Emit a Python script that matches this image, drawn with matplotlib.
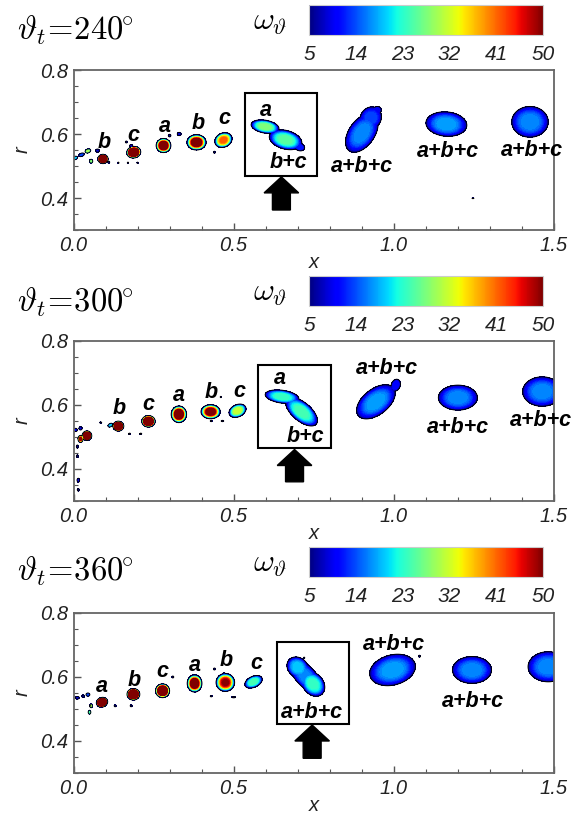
import numpy as np
import matplotlib
matplotlib.use("Agg")
import matplotlib.pyplot as plt
from matplotlib.patches import Rectangle, FancyArrow
from matplotlib.cm import ScalarMappable
from matplotlib.colors import Normalize

plt.rcParams['mathtext.fontset'] = 'cm'
plt.rcParams['font.family'] = ['Liberation Sans', 'DejaVu Sans']

# ---------------- data ----------------
TITLES = [r'$\vartheta_t\!=\!240^{\!\!\circ}$', r'$\vartheta_t\!=\!300^{\!\!\circ}$',
          r'$\vartheta_t\!=\!360^{\!\!\circ}$']
CBAR_TICKS = [5, 14, 23, 32, 41, 50]
X_TICKS = [0.0, 0.5, 1.0, 1.5]
Y_TICKS = [0.4, 0.6, 0.8]

# vortex blobs: (x, r, half-length, half-width, angle deg, peak omega)
BLOBS_240 = [
    (0.092, 0.522, 0.016, 0.0145, 0, 150),
    (0.188, 0.543, 0.022, 0.018, 10, 110),
    (0.281, 0.564, 0.023, 0.022, 0, 65),
    (0.384, 0.574, 0.030, 0.024, 0, 58),
    (0.468, 0.581, 0.028, 0.022, 25, 42),
    (0.598, 0.623, 0.044, 0.020, -10, 28),
    (0.662, 0.582, 0.052, 0.029, -15, 26),
    (0.705, 0.560, 0.017, 0.012, -20, 12),
    (0.900, 0.603, 0.068, 0.040, 55, 17),
    (0.928, 0.650, 0.036, 0.032, 55, 14),
    (0.948, 0.675, 0.013, 0.011, 0, 10),
    (1.164, 0.631, 0.064, 0.038, -5, 18),
    (1.425, 0.638, 0.057, 0.048, 0, 17),
    (0.005, 0.525, 0.008, 0.005, 20, 20),
    (0.025, 0.535, 0.009, 0.005, 20, 14),
    (0.045, 0.547, 0.009, 0.006, 20, 30),
    (0.055, 0.515, 0.005, 0.006, 0, 28),
    (0.075, 0.548, 0.006, 0.005, 0, 9),
    (0.300, 0.595, 0.004, 0.004, 0, 8),
    (0.330, 0.600, 0.006, 0.005, 0, 9),
    (0.440, 0.543, 0.003, 0.003, 0, 8),
    (0.180, 0.563, 0.005, 0.004, 0, 9),
    (0.165, 0.575, 0.003, 0.003, 0, 8),
    (1.247, 0.399, 0.003, 0.0012, 0, 6),
    (0.110, 0.512, 0.003, 0.003, 0, 12),
    (0.140, 0.510, 0.002, 0.002, 0, 8),
    (0.170, 0.510, 0.002, 0.002, 0, 8),
    (0.200, 0.510, 0.002, 0.002, 0, 8),
]
BLOBS_300 = [
    (0.042, 0.504, 0.015, 0.015, 0, 130),
    (0.022, 0.494, 0.008, 0.011, 0, 50),
    (0.006, 0.522, 0.006, 0.005, 0, 10),
    (0.022, 0.527, 0.005, 0.005, 0, 10),
    (0.012, 0.470, 0.003, 0.005, 0, 8),
    (0.012, 0.440, 0.003, 0.004, 0, 8),
    (0.015, 0.365, 0.004, 0.006, 0, 10),
    (0.015, 0.335, 0.003, 0.004, 0, 8),
    (0.115, 0.537, 0.008, 0.005, 30, 20),
    (0.085, 0.545, 0.003, 0.002, 0, 8),
    (0.140, 0.534, 0.017, 0.0155, 0, 150),
    (0.234, 0.549, 0.021, 0.018, 0, 110),
    (0.329, 0.571, 0.024, 0.026, 0, 62),
    (0.428, 0.579, 0.030, 0.022, 0, 55),
    (0.512, 0.582, 0.028, 0.019, 25, 32),
    (0.651, 0.626, 0.053, 0.020, -8, 24),
    (0.712, 0.579, 0.060, 0.029, -40, 25),
    (0.944, 0.610, 0.070, 0.040, 38, 18),
    (1.006, 0.662, 0.019, 0.014, 70, 11),
    (1.200, 0.623, 0.061, 0.039, 0, 17),
    (1.463, 0.642, 0.061, 0.046, 0, 17),
    (0.175, 0.510, 0.003, 0.002, 0, 8),
    (0.210, 0.510, 0.003, 0.002, 0, 8),
    (0.430, 0.550, 0.003, 0.002, 0, 8),
    (0.465, 0.550, 0.004, 0.002, 0, 8),
    (0.460, 0.625, 0.002, 0.002, 0, 8),
]
BLOBS_360 = [
    (0.089, 0.521, 0.018, 0.015, 20, 150),
    (0.187, 0.546, 0.020, 0.018, 0, 150),
    (0.278, 0.557, 0.022, 0.0215, 0, 90),
    (0.378, 0.580, 0.023, 0.027, 0, 60),
    (0.474, 0.583, 0.029, 0.028, 0, 50),
    (0.562, 0.585, 0.029, 0.017, 25, 25),
    (0.700, 0.630, 0.036, 0.030, -40, 20),
    (0.748, 0.578, 0.042, 0.032, -50, 24),
    (0.725, 0.602, 0.072, 0.031, -47, 17),
    (0.996, 0.622, 0.073, 0.047, 15, 18),
    (1.244, 0.622, 0.061, 0.042, 0, 17),
    (1.482, 0.632, 0.063, 0.047, 0, 17),
    (0.012, 0.535, 0.006, 0.004, 0, 10),
    (0.030, 0.540, 0.004, 0.004, 0, 8),
    (0.045, 0.545, 0.006, 0.005, 0, 14),
    (0.055, 0.510, 0.004, 0.006, 0, 30),
    (0.050, 0.490, 0.004, 0.006, 0, 25),
    (0.130, 0.510, 0.003, 0.003, 0, 12),
    (0.180, 0.510, 0.003, 0.003, 0, 8),
    (0.310, 0.600, 0.003, 0.003, 0, 8),
    (0.440, 0.625, 0.003, 0.003, 0, 8),
    (0.470, 0.610, 0.003, 0.004, 0, 10),
    (0.430, 0.540, 0.003, 0.002, 0, 8),
    (0.500, 0.537, 0.006, 0.002, 0, 8),
    (0.720, 0.660, 0.002, 0.002, 0, 8),
    (1.080, 0.665, 0.003, 0.003, 0, 8),
]

LABELS_240 = [("b", 0.095, 0.573), ("c", 0.188, 0.594), ("a", 0.286, 0.623),
              ("b", 0.390, 0.633), ("c", 0.470, 0.649), ("a", 0.600, 0.672),
              ("b+c", 0.672, 0.510), ("a+b+c", 0.902, 0.500),
              ("a+b+c", 1.170, 0.545), ("a+b+c", 1.430, 0.548)]
LABELS_300 = [("b", 0.142, 0.590), ("c", 0.234, 0.600), ("a", 0.328, 0.631),
              ("b", 0.430, 0.640), ("c", 0.517, 0.642), ("a", 0.643, 0.683),
              ("b+c", 0.724, 0.501), ("a+b+c", 0.977, 0.715),
              ("a+b+c", 1.200, 0.529), ("a+b+c", 1.460, 0.550)]
LABELS_360 = [("a", 0.088, 0.570), ("b", 0.189, 0.590), ("c", 0.276, 0.617),
              ("a", 0.378, 0.637), ("b", 0.477, 0.651), ("c", 0.571, 0.642),
              ("a+b+c", 0.745, 0.490), ("a+b+c", 1.000, 0.700),
              ("a+b+c", 1.246, 0.523)]

# box (x0, r0, width, height) and arrow (x, r_base, r_tip)
BOXES = [(0.535, 0.469, 0.226, 0.258), (0.576, 0.465, 0.229, 0.260), (0.635, 0.453, 0.225, 0.257)]
ARROWS = [(0.649, 0.3625, 0.466), (0.690, 0.360, 0.461), (0.745, 0.346, 0.450)]

PANELS = [BLOBS_240, BLOBS_300, BLOBS_360]
LABELS = [LABELS_240, LABELS_300, LABELS_360]

# ---------------- layout ----------------
W, H = 586, 814
fig = plt.figure(figsize=(W / 100, H / 100), dpi=100)

ax_tops = [70, 341, 613]
ax_h = 160
ax_left, ax_right = 73.5, 554
cb_tops = [5, 276, 547]
cb_h = 30
cb_left, cb_right = 309, 543
title_y = [30, 302, 571]

XL = (0.0, 1.5)
YL = (0.3, 0.8)
K = (ax_h / (YL[1] - YL[0])) / ((ax_right - ax_left) / (XL[1] - XL[0]))

xg = np.linspace(XL[0], XL[1], 1501)
yg = np.linspace(YL[0], YL[1], 601)
XX, YY = np.meshgrid(xg, yg)

cmap = plt.get_cmap('jet')
levels = np.linspace(5, 50, 46)
norm = Normalize(5, 50)

label_font = dict(fontsize=15.5, fontweight='bold', style='italic', ha='center', va='center')

for i in range(3):
    ax = fig.add_axes([ax_left / W, 1 - (ax_tops[i] + ax_h) / H,
                       (ax_right - ax_left) / W, ax_h / H])
    field = np.zeros_like(XX)
    for (x0, y0, a, b, ang, pk) in PANELS[i]:
        th = np.deg2rad(ang)
        dx = XX - x0
        dy = (YY - y0) * K
        u = dx * np.cos(th) + dy * np.sin(th)
        v = -dx * np.sin(th) + dy * np.cos(th)
        r2 = (u / a) ** 2 + (v / b) ** 2
        f = pk * (5.0 / pk) ** (r2 ** 2)
        field = np.maximum(field, f)
    ax.contourf(XX, YY, field, levels=levels, cmap=cmap, extend='max')
    ax.contour(XX, YY, field, levels=[5.0], colors='k', linewidths=0.7)

    for (t, lx, ly) in LABELS[i]:
        ax.text(lx, ly, t, **label_font)

    bx, by, bw, bh = BOXES[i]
    ax.add_patch(Rectangle((bx, by), bw, bh, fill=False, ec='k', lw=1.5, zorder=5))
    axx, ab, at = ARROWS[i]
    ax.add_patch(FancyArrow(axx, ab, 0, at - ab, width=0.056, head_width=0.108,
                            head_length=0.05, length_includes_head=True,
                            fc='k', ec='k', zorder=5))

    ax.set_xlim(*XL)
    ax.set_ylim(*YL)
    ax.set_xticks(X_TICKS)
    ax.set_xticks(np.arange(0.1, 1.5, 0.1), minor=True)
    ax.set_yticks(Y_TICKS)
    ax.set_yticks(np.arange(0.3, 0.8, 0.05), minor=True)
    ax.set_xticklabels([f"{v:.1f}" for v in X_TICKS])
    ax.set_yticklabels([f"{v:.1f}" for v in Y_TICKS])
    ax.tick_params(which='both', direction='in', colors='#555555', labelcolor='#222222',
                   labelsize=14.5, pad=4)
    ax.tick_params(which='major', length=5, width=1)
    ax.tick_params(which='minor', length=3, width=0.8)
    for lab in ax.get_xticklabels() + ax.get_yticklabels():
        lab.set_style('italic')
    for s in ax.spines.values():
        s.set_color('#666666')
        s.set_linewidth(1.3)
    ax.set_xlabel('x', fontsize=14.5, style='italic', labelpad=-1, color='#222222')
    ax.set_ylabel('r', fontsize=14.5, style='italic', labelpad=6, color='#222222')

    # colorbar
    cax = fig.add_axes([cb_left / W, 1 - (cb_tops[i] + cb_h) / H,
                        (cb_right - cb_left) / W, cb_h / H])
    sm = ScalarMappable(norm=norm, cmap=cmap)
    cb = fig.colorbar(sm, cax=cax, orientation='horizontal', ticks=CBAR_TICKS)
    cb.outline.set_edgecolor('#cccccc')
    cb.outline.set_linewidth(0.8)
    cax.tick_params(length=0, labelsize=15, pad=7, labelcolor='#222222')
    for lab in cax.get_xticklabels():
        lab.set_style('italic')
    fig.text(270 / W, 1 - (cb_tops[i] + 17) / H, r'$\omega_\vartheta$', fontsize=23,
             ha='center', va='center')

    fig.text(17 / W, 1 - title_y[i] / H, TITLES[i], fontsize=23.5, ha='left', va='center')

fig.savefig('out.png', dpi=100)
